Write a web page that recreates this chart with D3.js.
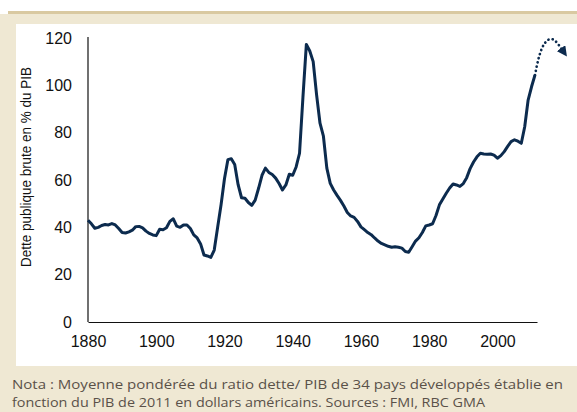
<!DOCTYPE html>
<html>
<head>
<meta charset="utf-8">
<script src="https://cdn.jsdelivr.net/npm/d3@7"></script>
<style>
 html, body { margin: 0; padding: 0; background: #fff; }
 svg { display: block; }
</style>
</head>
<body>
<script>

// debt / GDP, weighted average, 1880-2011
var years = d3.range(1880, 2012)
var debt = [
 43, 41.5, 39.6, 40, 40.8, 41.2, 41, 41.6, 41, 39.5,       // 1880s
 37.8, 37.6, 38.1, 38.8, 40.3, 40.4, 39.8, 38.4, 37.4, 36.8, // 1890s
 36.5, 39.2, 39, 39.8, 42.5, 43.6, 40.5, 40, 41, 41,        // 1900s
 39.5, 36.8, 35.5, 33, 28.3, 27.9, 27.3, 30.4, 40, 49.5,    // 1910s
 60.5, 68.6, 69, 66.5, 58, 52.5, 52.3, 50.5, 49.3, 51.5,    // 1920s
 56.5, 62, 65, 63.2, 62.3, 60.8, 58.5, 55.8, 57.9, 62.4,    // 1930s
 62, 65.5, 71.3, 95, 117.3, 114.5, 110, 96, 84, 78.5,       // 1940s
 65, 58.6, 55.8, 53.5, 51.4, 49, 46.3, 44.8, 44.2, 42.5,    // 1950s
 40.2, 39, 37.8, 36.9, 35.5, 34.2, 33.2, 32.6, 32, 31.6,    // 1960s
 31.8, 31.6, 31.2, 29.8, 29.5, 31.8, 34.2, 35.6, 37.8, 40.6, // 1970s
 41, 41.5, 45, 49.5, 52, 54.4, 56.6, 58.3, 57.9, 57.3,      // 1980s
 58.5, 61, 64.8, 67.6, 69.8, 71.3, 71, 70.9, 71, 70.5,      // 1990s
 69.2, 70.3, 72, 74.2, 76.2, 77, 76.4, 75.5, 82.5, 93.8,    // 2000s
 99.4, 104.3                                                // 2010-11
]

// dotted projection after 2011
var projYears = [2011, 2012, 2013, 2014, 2015, 2016, 2017, 2018, 2019]
var projDebt  = [104.3, 111, 115.5, 118, 119.3, 119.5, 118.7, 117, 115]

var yTicks = [0, 20, 40, 60, 80, 100, 120]
var xTicks = [1880, 1900, 1920, 1940, 1960, 1980, 2000]

var yTitle = 'Dette publique brute en % du PIB'
var note = [
 'Nota : Moyenne pondérée du ratio dette/ PIB de 34 pays développés établie en',
 'fonction du PIB de 2011 en dollars américains. Sources : FMI, RBC GMA'
]

var W = 577, H = 412
var navy = '#0c2b4e'

var svg = d3.select('body').append('svg')
  .attr('width', W)
  .attr('height', H)

// frame
svg.append('rect').attr('x', 0).attr('y', 14).attr('width', W).attr('height', H - 14).attr('fill', '#efe8d3')
svg.append('rect').attr('x', 8).attr('y', 11).attr('width', W - 8).attr('height', 3).attr('fill', '#d9c9a1')
svg.append('rect').attr('x', 16).attr('y', 24).attr('width', W - 16).attr('height', 342).attr('fill', '#fff')

var x = d3.scaleLinear().domain([1880, 2011.6]).range([88, 537])
var y = d3.scaleLinear().domain([0, 120]).range([322, 38])

// axes: plain lines, no tick marks
var xAxis = svg.append('g')
  .attr('transform', 'translate(0,' + y(0) + ')')
  .call(d3.axisBottom(x).tickValues(xTicks).tickFormat(d3.format('d')).tickSize(0).tickPadding(14))
xAxis.select('.domain').attr('stroke', '#111').attr('stroke-width', 1.2)
xAxis.selectAll('text').attr('font-family', 'Liberation Sans, Arial, sans-serif').attr('font-size', 16).attr('fill', '#111')

var yAxis = svg.append('g')
  .attr('transform', 'translate(' + x(1880) + ',0)')
  .call(d3.axisLeft(y).tickValues(yTicks).tickSize(0).tickPadding(16))
yAxis.select('.domain').attr('stroke', '#111').attr('stroke-width', 1.2)
  .attr('d', 'M0,' + (y(120) - 1) + 'V' + y(0))
yAxis.selectAll('text').attr('font-family', 'Liberation Sans, Arial, sans-serif').attr('font-size', 16).attr('fill', '#111')

svg.append('text')
  .attr('transform', 'translate(31,167) rotate(-90)')
  .attr('text-anchor', 'middle')
  .attr('font-family', 'Liberation Sans, Arial, sans-serif')
  .attr('font-size', 14.5)
  .attr('fill', '#111')
  .attr('textLength', 200)
  .attr('lengthAdjust', 'spacingAndGlyphs')
  .text(yTitle)

var line = d3.line()
  .x(function(d, i) { return x(d[0]) })
  .y(function(d) { return y(d[1]) })

svg.append('path')
  .datum(d3.zip(years, debt))
  .attr('fill', 'none')
  .attr('stroke', navy)
  .attr('stroke-width', 3)
  .attr('stroke-linejoin', 'round')
  .attr('d', line)

// arrow marker
svg.append('defs').append('marker')
  .attr('id', 'arr')
  .attr('viewBox', '0 0 10 10')
  .attr('refX', 2).attr('refY', 5)
  .attr('markerWidth', 3.8).attr('markerHeight', 3.8)
  .attr('markerUnits', 'strokeWidth')
  .attr('orient', 'auto')
  .append('path').attr('d', 'M0,0L10,5L0,10Z').attr('fill', navy)

svg.append('path')
  .datum(d3.zip(projYears, projDebt))
  .attr('fill', 'none')
  .attr('stroke', navy)
  .attr('stroke-width', 2.7)
  .attr('stroke-linecap', 'round')
  .attr('stroke-dasharray', '0.1 4.2')
  .attr('marker-end', 'url(#arr)')
  .attr('d', line.curve(d3.curveMonotoneX))

// note
svg.selectAll('.note').data(note).enter().append('text')
  .attr('class', 'note')
  .attr('x', 12)
  .attr('y', function(d, i) { return 389 + i * 18 })
  .attr('font-family', 'Open Sans, Noto Sans, sans-serif')
  .attr('font-size', 13.5)
  .attr('fill', '#5a5149')
  .attr('textLength', function(d, i) { return i == 0 ? 551 : 473 })
  .attr('lengthAdjust', 'spacingAndGlyphs')
  .text(function(d) { return d })

</script>
</body>
</html>
